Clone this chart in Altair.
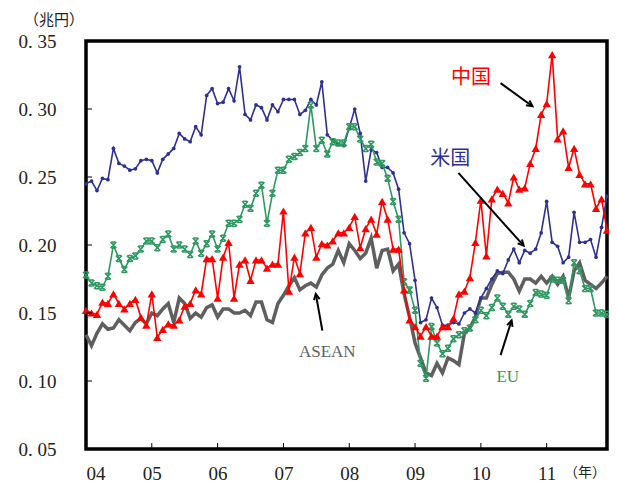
import math
import altair as alt
import pandas as pd

# ---------------- data (monthly, Jan 2004 - Dec 2011, trillion yen) ----------------
year_labels = ["04", "05", "06", "07", "08", "09", "10", "11"]

us = [0.245, 0.247, 0.240, 0.249, 0.248, 0.271, 0.260, 0.258, 0.255, 0.256, 0.262, 0.263,
      0.262, 0.253, 0.263, 0.267, 0.271, 0.282, 0.278, 0.276, 0.287, 0.281, 0.310, 0.315,
      0.304, 0.305, 0.315, 0.306, 0.331, 0.296, 0.292, 0.303, 0.301, 0.292, 0.303, 0.298,
      0.307, 0.307, 0.307, 0.296, 0.299, 0.307, 0.303, 0.320, 0.281, 0.277, 0.274, 0.273,
      0.286, 0.300, 0.282, 0.247, 0.270, 0.268, 0.257, 0.257, 0.253, 0.241, 0.209, 0.201,
      0.174, 0.143, 0.145, 0.161, 0.154, 0.141, 0.141, 0.143, 0.142, 0.150, 0.153, 0.150,
      0.161, 0.168, 0.175, 0.181, 0.179, 0.189, 0.197, 0.187, 0.196, 0.194, 0.197, 0.209,
      0.232, 0.202, 0.199, 0.187, 0.191, 0.224, 0.202, 0.202, 0.204, 0.191, 0.213, 0.236]

china = [0.152, 0.150, 0.149, 0.158, 0.157, 0.164, 0.157, 0.153, 0.157, 0.160, 0.147, 0.141,
         0.164, 0.132, 0.138, 0.142, 0.141, 0.145, 0.155, 0.157, 0.167, 0.164, 0.190, 0.190,
         0.161, 0.191, 0.202, 0.161, 0.186, 0.189, 0.174, 0.189, 0.189, 0.183, 0.186, 0.186,
         0.225, 0.166, 0.191, 0.179, 0.209, 0.213, 0.191, 0.201, 0.200, 0.203, 0.209, 0.209,
         0.213, 0.221, 0.198, 0.212, 0.219, 0.208, 0.232, 0.219, 0.197, 0.197, 0.167, 0.145,
         0.140, 0.133, 0.140, 0.133, 0.133, 0.140, 0.140, 0.146, 0.164, 0.166, 0.176, 0.202,
         0.233, 0.192, 0.234, 0.241, 0.238, 0.231, 0.250, 0.241, 0.242, 0.260, 0.271, 0.296,
         0.304, 0.340, 0.278, 0.284, 0.257, 0.271, 0.252, 0.245, 0.245, 0.227, 0.234, 0.211]

eu = [0.178, 0.172, 0.170, 0.169, 0.177, 0.200, 0.190, 0.182, 0.190, 0.192, 0.197, 0.203,
      0.203, 0.198, 0.204, 0.208, 0.197, 0.200, 0.197, 0.193, 0.203, 0.194, 0.201, 0.208,
      0.197, 0.205, 0.216, 0.216, 0.219, 0.230, 0.227, 0.238, 0.244, 0.216, 0.238, 0.255,
      0.255, 0.263, 0.265, 0.268, 0.271, 0.303, 0.271, 0.277, 0.267, 0.276, 0.275, 0.275,
      0.287, 0.287, 0.278, 0.271, 0.274, 0.261, 0.260, 0.249, 0.232, 0.219, 0.173, 0.167,
      0.152, 0.113, 0.102, 0.140, 0.128, 0.120, 0.124, 0.131, 0.134, 0.137, 0.139, 0.145,
      0.152, 0.148, 0.154, 0.161, 0.155, 0.149, 0.155, 0.153, 0.149, 0.157, 0.165, 0.164,
      0.163, 0.175, 0.174, 0.174, 0.159, 0.187, 0.181, 0.168, 0.168, 0.150, 0.150, 0.149]

asean = [0.134, 0.126, 0.135, 0.142, 0.138, 0.139, 0.145, 0.141, 0.137, 0.143, 0.146, 0.142,
         0.150, 0.148, 0.153, 0.157, 0.143, 0.161, 0.157, 0.146, 0.150, 0.147, 0.154, 0.156,
         0.147, 0.153, 0.153, 0.150, 0.150, 0.152, 0.148, 0.158, 0.158, 0.145, 0.143, 0.157,
         0.163, 0.170, 0.176, 0.167, 0.170, 0.172, 0.169, 0.178, 0.183, 0.186, 0.196, 0.187,
         0.201, 0.196, 0.190, 0.194, 0.205, 0.183, 0.196, 0.197, 0.181, 0.186, 0.164, 0.147,
         0.128, 0.117, 0.106, 0.104, 0.113, 0.106, 0.117, 0.115, 0.112, 0.135, 0.139, 0.147,
         0.161, 0.161, 0.171, 0.179, 0.180, 0.180, 0.175, 0.166, 0.175, 0.175, 0.172, 0.177,
         0.172, 0.177, 0.171, 0.177, 0.161, 0.181, 0.187, 0.174, 0.171, 0.168, 0.172, 0.177]

# annotation labels and arrows (in data units: month index, value)
ann_text = ["中国", "米国", "ASEAN", "EU"]
ann_m = [70.2, 66.4, 44.0, 76.9]
ann_v = [0.323, 0.263, 0.121, 0.103]
arrow_m1 = [75.6, 67.9, 43.1, 75.6]
arrow_v1 = [0.319, 0.253, 0.137, 0.119]
arrow_m2 = [81.4, 79.8, 41.9, 77.6]
arrow_v2 = [0.302, 0.1995, 0.164, 0.1445]

BLUE = "#2E3192"
RED = "#FF0000"
GREEN = "#2E9960"
GRAY = "#5F5F5F"

W, H = 521, 408
N = len(us)
months = list(range(N))
XMAX = N - 1

xs = alt.Scale(domain=[0, XMAX], nice=False, zero=False)
ys = alt.Scale(domain=[0.05, 0.35], nice=False, zero=False)

tick_months = [12 * k for k in range(len(year_labels))]
y_ticks = [0.05, 0.10, 0.15, 0.20, 0.25, 0.30, 0.35]

label_arr = "[" + ",".join("'%s'" % s for s in year_labels) + "]"

x_axis = alt.Axis(values=tick_months, labelExpr=label_arr + "[round(datum.value/12)]",
                  ticks=False, domain=False, grid=False, title=None,
                  labelFont="Liberation Serif", labelFontSize=19, labelColor="#222222",
                  labelPadding=15)
y_axis = alt.Axis(values=y_ticks, labelExpr="replace(format(datum.value,'.2f'),'.','.  ')",
                  ticks=False, domain=False, grid=False, title=None,
                  labelFont="Liberation Serif", labelFontSize=19, labelColor="#222222",
                  labelPadding=30)


def XQ(field):
    return alt.X(field + ":Q", scale=xs, axis=x_axis)


def YQ(field):
    return alt.Y(field + ":Q", scale=ys, axis=y_axis)


def frame(vals):
    return pd.DataFrame({"m": months, "v": vals})


gray_line = alt.Chart(frame(asean)).mark_line(color=GRAY, strokeWidth=3.5).encode(x=XQ("m"), y=YQ("v"))

blue_line = alt.Chart(frame(us)).mark_line(color=BLUE, strokeWidth=1.6).encode(x=XQ("m"), y=YQ("v"))
blue_pts = alt.Chart(frame(us)).mark_point(color=BLUE, filled=True, size=14, opacity=1).encode(
    x=XQ("m"), y=YQ("v"))

star = "M-1,-1L1,1M-1,1L1,-1M-0.7,-1L0.7,-1M-0.7,1L0.7,1"
green_line = alt.Chart(frame(eu)).mark_line(color=GREEN, strokeWidth=1.6).encode(x=XQ("m"), y=YQ("v"))
green_pts = alt.Chart(frame(eu)).mark_point(shape=star, color=GREEN, filled=False, size=36,
                                            strokeWidth=1.5, opacity=1).encode(x=XQ("m"), y=YQ("v"))

red_line = alt.Chart(frame(china)).mark_line(color=RED, strokeWidth=1.6).encode(x=XQ("m"), y=YQ("v"))
red_pts = alt.Chart(frame(china)).mark_point(shape="triangle-up", color=RED, filled=True,
                                             size=70, opacity=1).encode(x=XQ("m"), y=YQ("v"))

# inward tick marks
xt = alt.Chart(pd.DataFrame({"m": tick_months[1:]})).mark_rule(color="black", strokeWidth=1).encode(
    x=XQ("m"), y=alt.value(H), y2=alt.value(H - 6))
yt = alt.Chart(pd.DataFrame({"v": y_ticks[1:-1]})).mark_rule(color="black", strokeWidth=1).encode(
    y=YQ("v"), x=alt.value(0), x2=alt.value(6))

# arrows
px_m = W / XMAX
px_v = H / 0.30
angles = []
for a, b, c, d in zip(arrow_m1, arrow_v1, arrow_m2, arrow_v2):
    dx = (c - a) * px_m
    dy = -(d - b) * px_v
    angles.append(math.degrees(math.atan2(dx, -dy)) % 360)

arr_df = pd.DataFrame({"m1": arrow_m1, "v1": arrow_v1, "m2": arrow_m2, "v2": arrow_v2, "ang": angles})
arrow_lines = alt.Chart(arr_df).mark_rule(color="black", strokeWidth=2).encode(
    x=XQ("m1"), y=YQ("v1"), x2="m2:Q", y2="v2:Q")
head = "M-0.55,1.1L0,0L0.55,1.1"
arrow_heads = alt.Chart(arr_df).mark_point(shape=head, color="black", filled=False, size=110,
                                           strokeWidth=2, opacity=1).encode(
    x=XQ("m2"), y=YQ("v2"), angle=alt.Angle("ang:Q", scale=None))

ann_df = pd.DataFrame({"t": ann_text, "m": ann_m, "v": ann_v,
                       "c": [RED, BLUE, GRAY, GREEN]})
ann_cjk = alt.Chart(ann_df.iloc[:2]).mark_text(font="Noto Sans CJK JP", fontSize=20).encode(
    x=XQ("m"), y=YQ("v"), text="t:N", color=alt.Color("c:N", scale=None))
ann_lat = alt.Chart(ann_df.iloc[2:]).mark_text(font="Liberation Serif", fontSize=17).encode(
    x=XQ("m"), y=YQ("v"), text="t:N", color=alt.Color("c:N", scale=None))

unit_y = alt.Chart(pd.DataFrame({"t": ["（兆円）"]})).mark_text(
    font="Noto Sans CJK JP", fontSize=15, color="#222222", align="center", baseline="middle").encode(
    x=alt.value(-32), y=alt.value(-21), text="t:N")
unit_x = alt.Chart(pd.DataFrame({"t": ["（年）"]})).mark_text(
    font="Noto Sans CJK JP", fontSize=14, color="#222222", align="center").encode(
    x=alt.value(499), y=alt.value(432), text="t:N")

chart = alt.layer(
    gray_line, blue_line, blue_pts, green_line, green_pts, red_line, red_pts,
    xt, yt, arrow_lines, arrow_heads, ann_cjk, ann_lat, unit_y, unit_x
).properties(
    width=W, height=H,
    autosize=alt.AutoSizeParams(type="none"),
    padding={"left": 78, "top": 33, "right": 2, "bottom": 34},
    background="white",
).configure_view(stroke="black", strokeWidth=3.5)

chart.save("out.html", embed_options={"renderer": "svg", "actions": False})
